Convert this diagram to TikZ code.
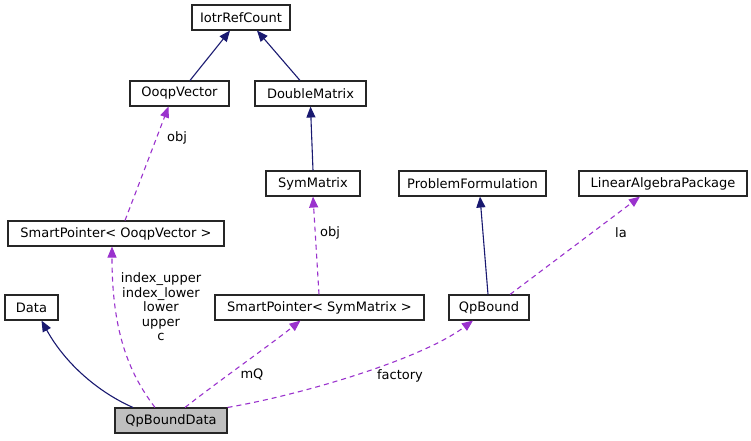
\documentclass[tikz,border=0pt]{standalone}
\usepackage{fontspec}
\setmainfont{DejaVu Sans}
\usetikzlibrary{arrows.meta}
\definecolor{navyedge}{HTML}{191970}
\definecolor{purpedge}{HTML}{9A32CD}
\begin{document}
\begin{tikzpicture}[x=1pt,y=-1pt,
  cls/.style={draw=black!85,line width=1.1pt,minimum height=25pt,inner sep=0pt,font=\fontsize{13}{14}\selectfont,fill=white},
  inh/.style={navyedge,line width=1.1pt,-{Triangle[length=11pt,width=9pt]}},
  use/.style={purpedge,line width=1.1pt,dash pattern=on 5pt off 4pt,-{Triangle[length=11pt,width=9pt]}},
  lbl/.style={font=\fontsize{13}{14.5}\selectfont,inner sep=0pt,align=center}]
\useasboundingbox (0,0) rectangle (751,440);
\node[cls,minimum width=98pt] (iotr) at (241,17.5) {IotrRefCount};
\node[cls,minimum width=99pt] (ooqp) at (179.5,93.5) {OoqpVector};
\node[cls,minimum width=111pt] (dmat) at (310.5,93.5) {DoubleMatrix};
\node[cls,minimum width=94pt] (sym) at (313,183.5) {SymMatrix};
\node[cls,minimum width=147pt] (pf) at (472.5,183.5) {ProblemFormulation};
\node[cls,minimum width=168pt] (lap) at (663,183.5) {LinearAlgebraPackage};
\node[cls,minimum width=216pt] (spv) at (116,233.5) {SmartPointer< OoqpVector >};
\node[cls,minimum width=53pt] (data) at (31.5,307.5) {Data};
\node[cls,minimum width=209pt] (sps) at (319.5,307.5) {SmartPointer< SymMatrix >};
\node[cls,minimum width=80pt] (qpb) at (489,307.5) {QpBound};
\node[cls,minimum width=112pt,fill=black!25] (qbd) at (171,420.5) {QpBoundData};

\draw[inh] ([xshift=10.5pt]ooqp.north) -- ([xshift=-11pt]iotr.south);
\draw[inh] ([xshift=-10.5pt]dmat.north) -- ([xshift=16pt]iotr.south);
\draw[inh] (sym.north) -- (dmat.south);
\draw[inh] ([xshift=-1pt]qpb.north) -- ([xshift=7.5pt]pf.south);
\draw[inh] ([xshift=-38pt]qbd.north) .. controls (100,393) and (66,365) .. ([xshift=10pt]data.south);

\draw[use] ([xshift=-16pt]qbd.north) .. controls (128,372) and (112,330) .. ([xshift=-4pt]spv.south);
\draw[use] ([xshift=9pt]spv.north) -- ([xshift=-11pt]ooqp.south);
\draw[use] ([xshift=14pt]qbd.north) .. controls (220,380) and (270,345) .. ([xshift=-19pt]sps.south);
\draw[use] ([xshift=-0.5pt]sps.north) -- (sym.south);
\draw[use] (qbd.north east) .. controls (300,395) and (420,360) .. ([xshift=-16pt]qpb.south);
\draw[use] ([xshift=21pt]qpb.north) -- ([xshift=-23pt]lap.south);

\node[lbl] (l1) at (161,307) {index\_upper\\index\_lower\\lower\\upper\\c};
\node[lbl] (l2) at (177,138) {obj};
\node[lbl] (l3) at (252,375) {mQ};
\node[lbl] (l4) at (330,233) {obj};
\node[lbl] (l5) at (400,376) {factory};
\node[lbl] (l6) at (621,233) {la};
\end{tikzpicture}
\end{document}
